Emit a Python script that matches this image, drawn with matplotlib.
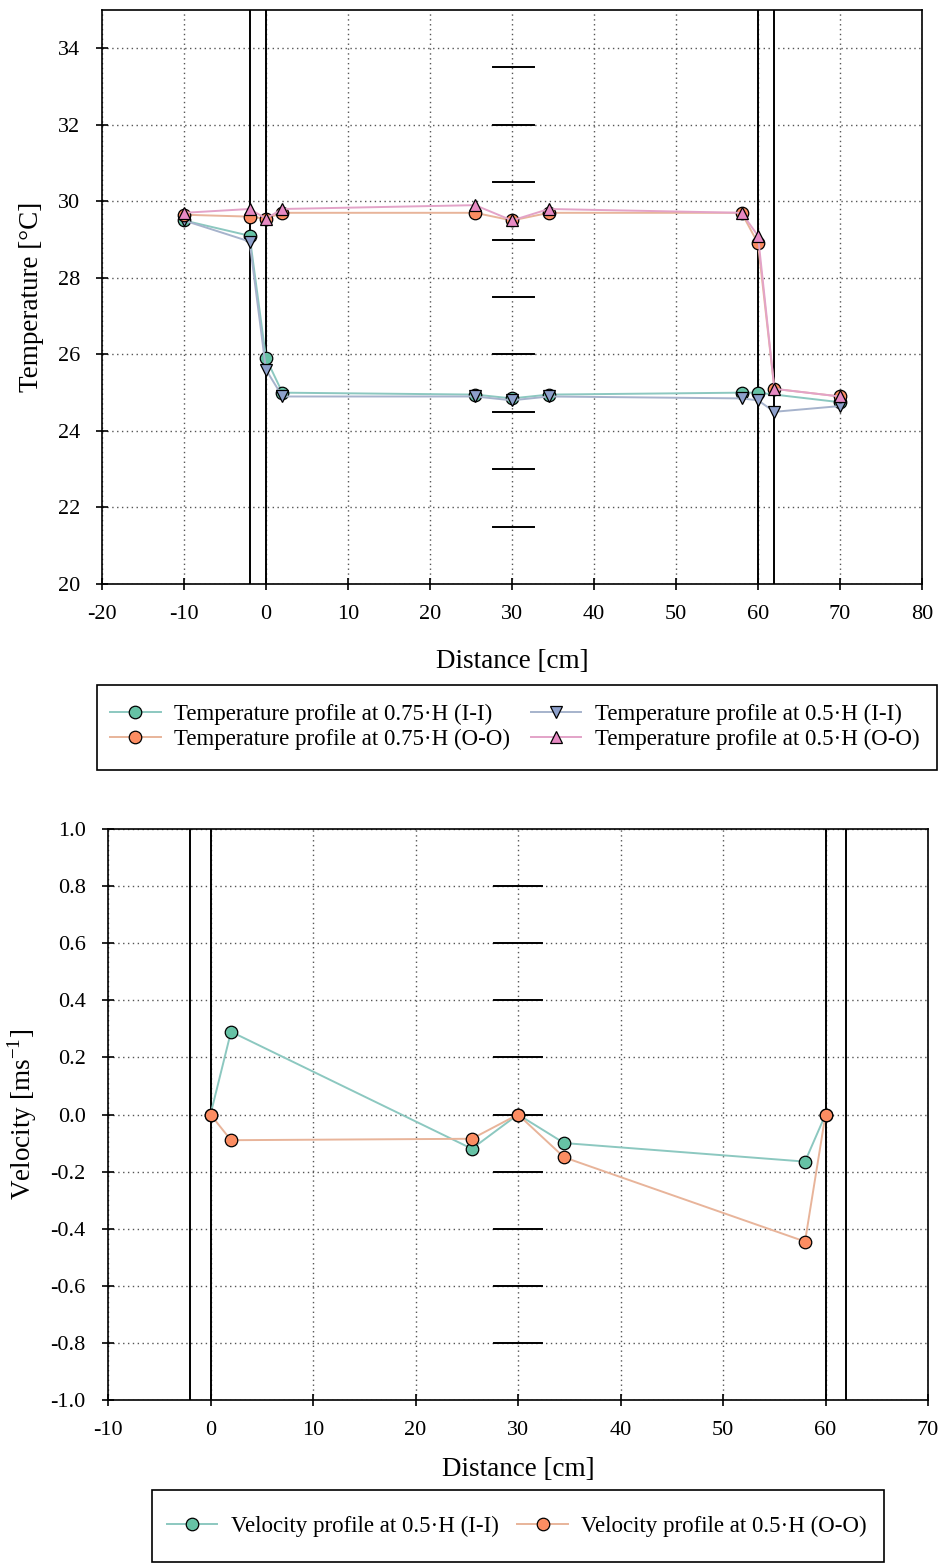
import matplotlib
matplotlib.use("Agg")
import matplotlib.pyplot as plt
from matplotlib.patches import Rectangle

plt.rcParams['font.family'] = ['Liberation Serif', 'DejaVu Serif']
plt.rcParams['mathtext.fontset'] = 'custom'
plt.rcParams['mathtext.rm'] = 'Liberation Serif'
plt.rcParams['axes.unicode_minus'] = False

# ---------------- data: temperature ----------------
t_x = [-10, -2, 0, 2, 25.5, 30, 34.5, 58, 60, 62, 70]
t_x_ii75 = [-10, -2, 0, 2, 25.5, 30, 34.5, 58, 60, 70]
t_ii_075 = [29.5, 29.1, 25.9, 25.0, 24.95, 24.85, 24.95, 25.0, 25.0, 24.75]
t_ii_05 = [29.5, 28.95, 25.6, 24.9, 24.9, 24.8, 24.9, 24.85, 24.8, 24.5, 24.65]
t_oo_075 = [29.65, 29.6, 29.55, 29.7, 29.7, 29.5, 29.7, 29.7, 28.9, 25.1, 24.9]
t_oo_05 = [29.7, 29.8, 29.55, 29.8, 29.9, 29.5, 29.8, 29.7, 29.1, 25.1, 24.9]
t_labels = ["Temperature profile at 0.75·H (I-I)",
            "Temperature profile at 0.5·H (I-I)",
            "Temperature profile at 0.75·H (O-O)",
            "Temperature profile at 0.5·H (O-O)"]
t_dash_levels = [33.5, 32, 30.5, 29, 27.5, 26, 24.5, 23, 21.5]

# ---------------- data: velocity ----------------
v_x = [0, 2, 25.5, 30, 34.5, 58, 60]
v_ii = [0.0, 0.29, -0.12, 0.0, -0.10, -0.165, 0.0]
v_oo = [0.0, -0.09, -0.085, 0.0, -0.15, -0.445, 0.0]
v_labels = ["Velocity profile at 0.5·H (I-I)",
            "Velocity profile at 0.5·H (O-O)"]
v_dash_levels = [0.8, 0.6, 0.4, 0.2, 0.0, -0.2, -0.4, -0.6, -0.8]

wall_x = [-2, 0, 60, 62]

# colours
c_teal, c_orange, c_blue, c_pink = '#66c2a5', '#fc8d62', '#8da0cb', '#e78ac3'
l_teal, l_orange, l_blue, l_pink = '#8cc8c0', '#e8b49a', '#a6b3cc', '#e3a3c8'

W, H = 941, 1566
fig = plt.figure(figsize=(W / 100, H / 100), dpi=100)

TICK_FS = 16
LABEL_FS = 19.5
LEG_FS = 16.5

def style_axes(ax):
    ax.grid(True, linestyle=(0, (1, 2.5)), color='#555555', linewidth=1.0)
    ax.set_axisbelow(True)
    for s in ax.spines.values():
        s.set_linewidth(1.2)
        s.set_color('black')
    ax.tick_params(direction='inout', length=8, width=1.2, labelsize=TICK_FS)
    ax.tick_params(axis='y', pad=12)
    ax.tick_params(axis='x', pad=11)

def frame_box(x0, y0, x1, y1):
    fig.patches.append(Rectangle((x0 / W, 1 - y1 / H), (x1 - x0) / W, (y1 - y0) / H,
                                 transform=fig.transFigure, fill=False,
                                 edgecolor='black', linewidth=1.2))

# ---------- top ----------
ax1 = fig.add_axes([102 / W, 1 - 584 / H, (922 - 102) / W, (584 - 10) / H])
for xv in wall_x:
    ax1.axvline(xv, color='black', lw=1.4, zorder=2)
for yv in t_dash_levels:
    ax1.plot([27.7, 32.7], [yv, yv], color='black', lw=1.4, zorder=2)
mk = dict(markersize=9, markeredgecolor='black', markeredgewidth=0.9, lw=1.4, zorder=3)
ax1.plot(t_x_ii75, t_ii_075, marker='o', color=l_teal, markerfacecolor=c_teal, label=t_labels[0], **mk)
ax1.plot(t_x, t_ii_05, marker='v', color=l_blue, markerfacecolor=c_blue, label=t_labels[1], **mk)
ax1.plot(t_x, t_oo_075, marker='o', color=l_orange, markerfacecolor=c_orange, label=t_labels[2], **mk)
ax1.plot(t_x, t_oo_05, marker='^', color=l_pink, markerfacecolor=c_pink, label=t_labels[3], **mk)
ax1.set_xlim(-20, 80)
ax1.set_ylim(20, 35)
ax1.set_xticks(range(-20, 81, 10))
ax1.set_yticks(range(20, 35, 2))
style_axes(ax1)
ax1.set_xlabel('Distance [cm]', fontsize=LABEL_FS, labelpad=18)
ax1.set_ylabel('Temperature [°C]', fontsize=LABEL_FS, labelpad=10)
h, l = ax1.get_legend_handles_labels()
order = [0, 2, 1, 3]
leg1 = fig.legend([h[i] for i in order], [l[i] for i in order], ncol=2,
                  loc='center', bbox_to_anchor=(515 / W, 1 - 727 / H),
                  fontsize=LEG_FS, frameon=False,
                  handlelength=2.2, columnspacing=0.9, borderpad=0.0,
                  handletextpad=0.6, labelspacing=0.2)
frame_box(97, 685, 937, 770)

# ---------- bottom ----------
ax2 = fig.add_axes([108 / W, 1 - 1400 / H, (928 - 108) / W, (1400 - 829) / H])
for xv in wall_x:
    ax2.axvline(xv, color='black', lw=1.4, zorder=2)
for yv in v_dash_levels:
    ax2.plot([27.7, 32.3], [yv, yv], color='black', lw=1.4, zorder=2)
ax2.plot(v_x, v_ii, marker='o', color=l_teal, markerfacecolor=c_teal, label=v_labels[0], **mk)
ax2.plot(v_x, v_oo, marker='o', color=l_orange, markerfacecolor=c_orange, label=v_labels[1], **mk)
ax2.set_xlim(-10, 70)
ax2.set_ylim(-1.0, 1.0)
ax2.set_xticks(range(-10, 71, 10))
ax2.set_yticks([-1.0 + 0.2 * i for i in range(11)])
ax2.yaxis.set_major_formatter(matplotlib.ticker.FormatStrFormatter('%.1f'))
style_axes(ax2)
ax2.set_xlabel('Distance [cm]', fontsize=LABEL_FS, labelpad=12)
ax2.set_ylabel(r'Velocity [ms$^{\mathregular{-1}}$]', fontsize=LABEL_FS, labelpad=8)
leg2 = fig.legend(*ax2.get_legend_handles_labels(), ncol=2,
                  loc='center', bbox_to_anchor=(517 / W, 1 - 1526 / H),
                  fontsize=LEG_FS, frameon=False,
                  handlelength=2.2, columnspacing=0.8, borderpad=0.0,
                  handletextpad=0.6)
frame_box(152, 1490, 884, 1562)

fig.savefig('out.png', dpi=100, facecolor='white')
